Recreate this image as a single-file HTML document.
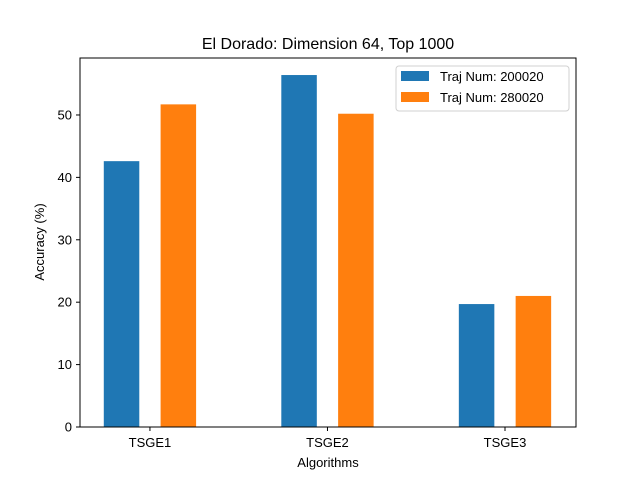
<!DOCTYPE html>
<html><head><meta charset="utf-8"><style>body{margin:0;background:#fff}svg{display:block;font-family:"Liberation Sans","DejaVu Sans",sans-serif}</style></head>
<body>
<svg id="chart" width="640" height="480">
<rect width="640" height="480" fill="#fff"/>
<text x="328" y="49" font-size="16" text-anchor="middle">El Dorado: Dimension 64, Top 1000</text>
<g id="bars"></g>
<g id="axes"></g>
<rect x="80" y="58" width="496" height="369" fill="none" stroke="#000" stroke-width="1"/>
<text x="328" y="467" font-size="13" text-anchor="middle">Algorithms</text>
<text transform="translate(44,242) rotate(-90)" font-size="13" text-anchor="middle">Accuracy (%)</text>
<g>
<rect x="396" y="66" width="173" height="45" rx="3" fill="#fff" stroke="#ccc" opacity="0.9"/>
<g><rect x="401" y="71" width="28" height="10" fill="#1f77b4"/><text x="440" y="81" font-size="13">Traj Num: 200020</text></g>
<g><rect x="401" y="92" width="28" height="10" fill="#ff7f0e"/><text x="440" y="102" font-size="13">Traj Num: 280020</text></g>
</g>
</svg>
<script>
const categories = ["TSGE1","TSGE2","TSGE3"];
const series200020 = [42.6, 56.4, 19.7];
const series280020 = [51.7, 50.2, 21.0];
const yTicks = [0,10,20,30,40,50];
const NS="http://www.w3.org/2000/svg";
const x0=80,x1=576,y0=427,y1=58,xmin=-0.394,xmax=2.4,ymin=0,ymax=59.13;
const xs=v=>x0+(v-xmin)/(xmax-xmin)*(x1-x0);
const ys=v=>y0-(v-ymin)/(ymax-ymin)*(y0-y1);
const bars=document.getElementById('bars'),axes=document.getElementById('axes');
function mk(t,a,p){const e=document.createElementNS(NS,t);for(const k in a)e.setAttribute(k,a[k]);p.appendChild(e);return e;}
const w=0.2;
[[series200020,-0.16,'#1f77b4','200020'],[series280020,0.16,'#ff7f0e','280020']].forEach(([s,off,c,n])=>{
 s.forEach((v,i)=>{
  const e=mk('rect',{x:xs(i+off-w/2),y:ys(v),width:xs(i+off+w/2)-xs(i+off-w/2),height:ys(0)-ys(v),fill:c},bars);
  
  
 });
});
categories.forEach((c,i)=>{
 const x=xs(i);
 mk('line',{x1:x,x2:x,y1:427,y2:431,stroke:'#000'},axes);
 const t=mk('text',{x:x,y:447,'font-size':13,'text-anchor':'middle'},axes);
 t.textContent=c;
 
 
});
yTicks.forEach(v=>{
 const y=ys(v);
 mk('line',{x1:76,x2:80,y1:y,y2:y,stroke:'#000'},axes);
 const t=mk('text',{x:72,y:y+4.5,'font-size':13,'text-anchor':'end'},axes);
 t.textContent=v;
 
 
});
</script>
</body></html>
